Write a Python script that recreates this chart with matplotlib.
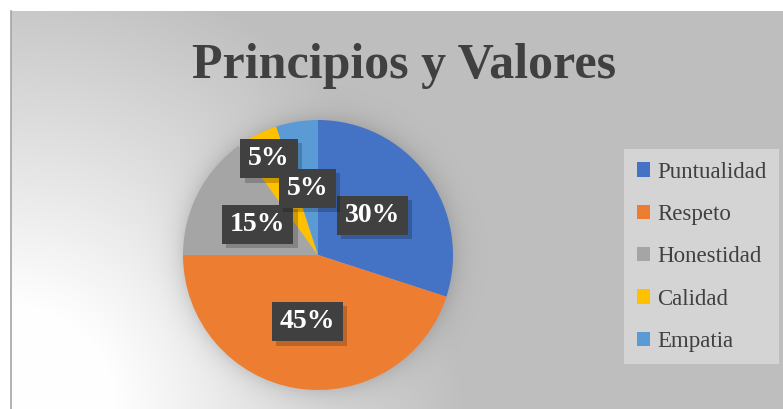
import numpy as np
import matplotlib
matplotlib.use("Agg")
import matplotlib.pyplot as plt
from matplotlib.path import Path
from matplotlib.lines import Line2D
import matplotlib.patheffects as pe

# datos
categorias = ["Puntualidad", "Respeto", "Honestidad", "Calidad", "Empatia"]
valores = [30, 45, 15, 5, 5]
colores = ["#4472C4", "#ED7D31", "#A5A5A5", "#FFC000", "#5B9BD5"]
titulo = "Principios y Valores"

W, H = 783, 409
fig = plt.figure(figsize=(W / 100, H / 100), dpi=100)
fig.patch.set_facecolor("white")

# fondo con degradado y sombra del pastel
x0, y0 = 11, 11
cx, cy, R = 318, 255, 135
xs = np.arange(x0, W) + 0.5
ys = np.arange(y0, H) + 0.5
X, Y = np.meshgrid(xs, ys)
d = np.hypot(X - 11, Y - H)
t = np.clip((d - 100) / 350, 0, 1)
fondo = 255 - 64 * t
s = np.clip(np.hypot(X - cx, Y - cy) - R, 0, None)
fondo = fondo * (1 - 0.12 * np.exp(-s / 11))
img = np.dstack([fondo / 255] * 3)
axf = fig.add_axes([x0 / W, 0, 1 - x0 / W, (H - y0) / H])
axf.imshow(img, aspect="auto", interpolation="bilinear")
axf.axis("off")
fig.add_artist(Line2D([x0 / W, x0 / W], [0, (H - y0) / H], color="#A6A6A6", lw=1.2))

# titulo
fig.text(404 / W, 1 - 78 / H, titulo, ha="center", va="baseline",
         fontsize=36, fontweight="bold", family="Liberation Serif", color="#404040")

# pastel
ax = fig.add_axes([(cx - R) / W, (H - cy - R) / H, 2 * R / W, 2 * R / H])


def caja(x0, y0, width, height, mutation_size):
    px = 0.28 * mutation_size
    py = 0.26 * mutation_size
    a, b = x0 - px, y0 - py
    c, e = x0 + width + px, y0 + height + py
    return Path([(a, b), (c, b), (c, e), (a, e), (a, b)], closed=True)


wedges, textos, autotextos = ax.pie(
    valores, colors=colores, startangle=90, counterclock=False, radius=1,
    autopct="%1.0f%%", pctdistance=0.5, wedgeprops=dict(linewidth=0),
    textprops=dict(color="white", fontsize=20, fontweight="bold", family="Liberation Serif"))
ax.set_xlim(-1, 1)
ax.set_ylim(-1, 1)
ax.axis("off")

for i, at in enumerate(autotextos):
    if categorias[i] == "Calidad":
        w = wedges[i]
        ang = np.deg2rad((w.theta1 + w.theta2) / 2)
        at.set_position((0.8 * np.cos(ang), 0.8 * np.sin(ang)))
    at.set_bbox(dict(boxstyle=caja, facecolor="#404040", edgecolor="none", linewidth=0))
    at.get_bbox_patch().set_path_effects([
        pe.SimplePatchShadow(offset=(3, -3), shadow_rgbFace="black", alpha=0.2),
        pe.Normal()])

# leyenda
leg = fig.legend(wedges, categorias, loc="upper left",
                 bbox_to_anchor=(624 / W, 1 - 149 / H),
                 prop=dict(family="Liberation Serif", size=16.5),
                 handlelength=0.6, handleheight=0.6, handletextpad=0.3,
                 labelspacing=0.93, borderpad=0.55, borderaxespad=0,
                 frameon=True, fancybox=False)
leg.get_frame().set_facecolor("#D4D4D4")
leg.get_frame().set_edgecolor("none")
leg.get_frame().set_alpha(1)
for txt in leg.get_texts():
    txt.set_color("#404040")

plt.savefig("out.png", dpi=100)
